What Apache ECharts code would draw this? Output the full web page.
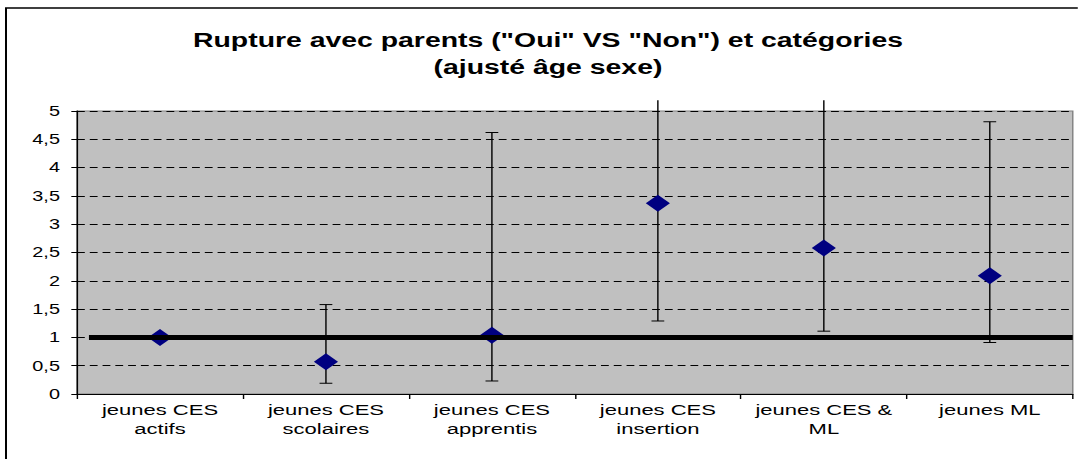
<!DOCTYPE html>
<html>
<head>
<meta charset="utf-8">
<script src="https://cdn.jsdelivr.net/npm/echarts@6/dist/echarts.min.js"></script>
<style>
    html, body { margin: 0; padding: 0; background: #fff; overflow: hidden; }
    #wrap { width: 1078px; height: 459px; overflow: hidden; }
    #chart { height: 459px; transform-origin: 0 0; }
</style>
</head>
<body>
<div id="wrap"><div id="chart"></div></div>
<script>
// the source picture is an Excel chart stretched sideways, so draw narrow and scale x
var STRETCH = 1.42;
var FONT = "'Liberation Sans', Arial, sans-serif";

var categories = ['jeunes CES\nactifs', 'jeunes CES\nscolaires', 'jeunes CES\napprentis',
    'jeunes CES\ninsertion', 'jeunes CES &\nML', 'jeunes ML'];
var oddsRatio = [1.0, 0.57, 1.04, 3.37, 2.58, 2.09];
var ciLow = [null, 0.19, 0.23, 1.29, 1.11, 0.91];
var ciHigh = [null, 1.58, 4.62, 5.19, 5.19, 4.81];
var refValue = 1;
var refStart = 0.072; // reference line starts a bit right of the y axis
var yMin = 0, yMax = 5, yStep = 0.5;

var dom = document.getElementById('chart');
dom.style.width = (1078 / STRETCH) + 'px';
dom.style.transform = 'scaleX(' + STRETCH + ')';

var myChart = echarts.init(dom, null, { renderer: 'svg' });

var errData = [];
for (var i = 0; i < categories.length; i++) {
    if (ciLow[i] != null) {
        errData.push([i, ciLow[i], ciHigh[i]]);
    }
}

function renderErrorBar(params, api) {
    var idx = api.value(0);
    var lo = api.value(1);
    var hi = api.value(2);
    var top = api.coord([idx, hi]);
    var bot = api.coord([idx, lo]);
    var cap = 4.5;
    var st = { stroke: '#000', lineWidth: 1 };
    var children = [
        { type: 'line', shape: { x1: top[0], y1: top[1], x2: bot[0], y2: bot[1] }, style: st },
        { type: 'line', shape: { x1: bot[0] - cap, y1: bot[1], x2: bot[0] + cap, y2: bot[1] }, style: st }
    ];
    if (hi <= yMax) { // bars running off the top have no cap
        children.push({ type: 'line', shape: { x1: top[0] - cap, y1: top[1], x2: top[0] + cap, y2: top[1] }, style: st });
    }
    return { type: 'group', children: children };
}

var option = {
    animation: false,
    backgroundColor: '#fff',
    title: {
        text: 'Rupture avec parents ("Oui" VS "Non") et catégories\n(ajusté âge sexe)',
        left: 548 / STRETCH - 5,
        textAlign: 'center',
        top: 22,
        textStyle: {
            fontFamily: FONT,
            fontSize: 20,
            fontWeight: 'bold',
            color: '#000',
            lineHeight: 27
        }
    },
    graphic: [{
        type: 'rect',
        shape: { x: 6 / STRETCH, y: 8, width: 2000, height: 1000 },
        style: { fill: 'none', stroke: '#000', lineWidth: 1.4 },
        silent: true
    }],
    grid: {
        left: 77 / STRETCH,
        right: 5 / STRETCH,
        top: 111,
        bottom: 65,
        show: true,
        backgroundColor: '#c0c0c0',
        borderColor: '#808080',
        borderWidth: 1
    },
    xAxis: [{
        type: 'category',
        data: categories,
        boundaryGap: true,
        axisLine: { lineStyle: { color: '#000', width: 1 } },
        axisTick: { show: true, length: 5, lineStyle: { color: '#000' } },
        axisLabel: {
            fontFamily: FONT,
            fontSize: 15.5,
            lineHeight: 19,
            color: '#000',
            margin: 6,
            interval: 0
        },
        splitLine: { show: false }
    }, {
        type: 'value',
        min: 0,
        max: categories.length,
        show: false
    }],
    yAxis: {
        type: 'value',
        min: yMin,
        max: yMax,
        interval: yStep,
        axisLine: { show: true, lineStyle: { color: '#000', width: 1 } },
        axisTick: { show: true, length: 4, lineStyle: { color: '#000' } },
        axisLabel: {
            fontFamily: FONT,
            fontSize: 14,
            color: '#000',
            margin: 12,
            formatter: function (v) {
                return String(v).replace('.', ',');
            }
        },
        splitLine: {
            show: true,
            lineStyle: { color: '#000', width: 1, type: [5.5, 3.5] }
        }
    },
    series: [{
        name: 'IC',
        type: 'custom',
        xAxisIndex: 0,
        renderItem: renderErrorBar,
        encode: { x: 0, y: [1, 2] },
        data: errData,
        clip: false,
        z: 2
    }, {
        name: 'OR',
        type: 'scatter',
        xAxisIndex: 0,
        data: oddsRatio,
        symbol: 'diamond',
        symbolSize: [17, 17],
        itemStyle: { color: '#000080', opacity: 1 },
        z: 3
    }, {
        name: 'référence',
        type: 'line',
        xAxisIndex: 1,
        data: [[refStart, refValue], [categories.length, refValue]],
        symbol: 'none',
        lineStyle: { color: '#000', width: 5 },
        z: 4
    }]
};

myChart.setOption(option);
</script>
</body>
</html>
